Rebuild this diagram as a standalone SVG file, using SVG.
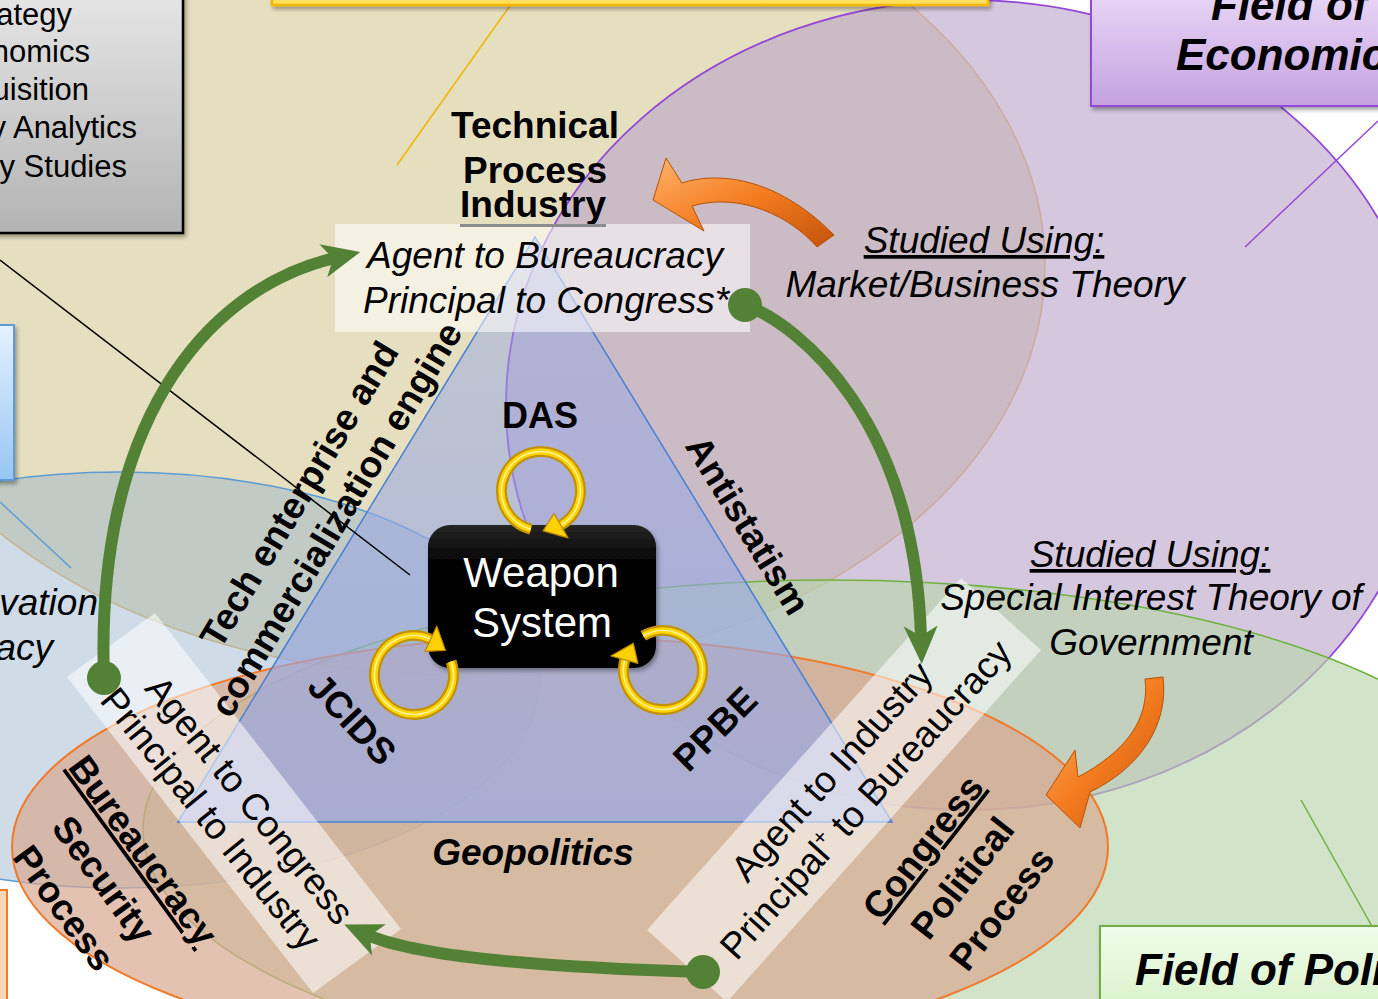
<svg xmlns="http://www.w3.org/2000/svg" width="1378" height="999" viewBox="0 0 1378 999">
<defs>
<style>
text{font-family:"Liberation Sans",Arial,Helvetica,sans-serif;fill:#000}
.bold{font-weight:bold;font-size:37px}
.it{font-style:italic;font-size:37px}
.reg{font-size:37px}
.gray{font-size:31px}
.mid{text-anchor:middle}
.end{text-anchor:end}
.ul{text-decoration:underline}
.field{font-weight:bold;font-style:italic;font-size:44px}
.band{fill:#ffffff;fill-opacity:0.55}
.garrow{fill:none;stroke:#538135;stroke-width:12}
.gdot{fill:#538135}
.ring-o{fill:none;stroke:#c29200;stroke-width:11}
.ring-i{fill:none;stroke:#ffd400;stroke-width:6.5}
.ring-h{fill:none;stroke:#fff4a0;stroke-width:1.6}
.ahead{fill:#ffd000;stroke:#b88600;stroke-width:1.2;stroke-linejoin:round}
.oarrow{fill:url(#orangeG);stroke:#b65208;stroke-width:1}
</style>
<linearGradient id="grayG" x1="0" y1="0" x2="0" y2="1"><stop offset="0" stop-color="#e6e6e6"/><stop offset="1" stop-color="#b3b3b3"/></linearGradient>
<linearGradient id="purpG" x1="0" y1="0" x2="0" y2="1"><stop offset="0" stop-color="#ecdcf8"/><stop offset="1" stop-color="#c4a2e0"/></linearGradient>
<linearGradient id="greenG" x1="0" y1="0" x2="0" y2="1"><stop offset="0" stop-color="#f0fdea"/><stop offset="1" stop-color="#d4efc4"/></linearGradient>
<linearGradient id="blueG" x1="0" y1="0" x2="0" y2="1"><stop offset="0" stop-color="#e4f1ff"/><stop offset="1" stop-color="#98c6f2"/></linearGradient>
<linearGradient id="yelG" x1="0" y1="0" x2="0" y2="1"><stop offset="0" stop-color="#fff2a8"/><stop offset="1" stop-color="#ffdd55"/></linearGradient>
<linearGradient id="triG" x1="0" y1="0" x2="0" y2="1"><stop offset="0" stop-color="#98a8e4" stop-opacity="0.45"/><stop offset="1" stop-color="#98a8e4" stop-opacity="0.72"/></linearGradient>
<linearGradient id="orangeG" x1="0" y1="0" x2="1" y2="1"><stop offset="0" stop-color="#ffb36a"/><stop offset="0.5" stop-color="#f47c20"/><stop offset="1" stop-color="#c4530a"/></linearGradient>
<linearGradient id="boxG" x1="0" y1="0" x2="0" y2="1"><stop offset="0" stop-color="#262626"/><stop offset="0.25" stop-color="#050505"/><stop offset="1" stop-color="#000"/></linearGradient>
<marker id="gHead" markerUnits="userSpaceOnUse" viewBox="0 -18 40 36" refX="12" refY="0" markerWidth="40" markerHeight="36" orient="auto"><path d="M0,-17 L38,0 L0,17 L10,0 Z" fill="#538135"/></marker>
<filter id="sh" x="-10%" y="-10%" width="130%" height="130%"><feDropShadow dx="2" dy="3" stdDeviation="2" flood-color="#000" flood-opacity="0.35"/></filter>
</defs>
<rect width="1378" height="999" fill="#ffffff"/>

<g id="fields">
<ellipse id="field-industry" cx="450" cy="265" rx="595" ry="410" fill="#e6dfbf" stroke="#e8b660" stroke-width="1.5"/>
<ellipse id="field-economics" cx="968" cy="405" rx="462" ry="405" fill="#b9a3c8" fill-opacity="0.6" stroke="#9448d6" stroke-width="1.8"/>
<ellipse id="field-innovation" cx="120" cy="680" rx="419" ry="208" fill="#94b2cc" fill-opacity="0.45" stroke="#5b9bd5" stroke-width="1.5"/>
<ellipse id="field-politics" cx="830" cy="830" rx="687" ry="250" fill="#b8d4aa" fill-opacity="0.65" stroke="#6fb23f" stroke-width="1.5"/>
<ellipse id="field-process" cx="560" cy="847" rx="548" ry="210" fill="#d8a891" fill-opacity="0.7" stroke="#f07a2a" stroke-width="2"/>
</g>

<g id="triangle">
<polygon points="535,237 178,822 892,822" fill="url(#triG)" stroke="#4a7fd4" stroke-width="1.5"/>
</g>

<g id="callouts">
<line x1="514" y1="0" x2="397" y2="165" stroke="#f0b400" stroke-width="1.5"/>
<line x1="0" y1="260" x2="410" y2="575" stroke="#000" stroke-width="1.5"/>
<line x1="1378" y1="121" x2="1245" y2="247" stroke="#9448d6" stroke-width="1.5"/>
<line x1="0" y1="502" x2="71" y2="568" stroke="#5b9bd5" stroke-width="1.5"/>
<line x1="1301" y1="800" x2="1378" y2="937" stroke="#6fb23f" stroke-width="1.5"/>
</g>

<g id="box-gray">
<rect x="-10" y="-10" width="193" height="243" fill="url(#grayG)" stroke="#000" stroke-width="2.5" filter="url(#sh)"/>
<text class="gray end" x="72" y="25">ategy</text>
<text class="gray end" x="90" y="62">nomics</text>
<text class="gray end" x="89" y="100">uisition</text>
<text class="gray end" x="137" y="138">y Analytics</text>
<text class="gray end" x="127" y="177">y Studies</text>
</g>
<g id="box-yellow"><rect x="272" y="-30" width="716" height="35" fill="url(#yelG)" stroke="#f2b800" stroke-width="2.5" filter="url(#sh)"/></g>
<g id="box-economics">
<rect x="1091" y="-20" width="310" height="126" fill="url(#purpG)" stroke="#9448d6" stroke-width="2" filter="url(#sh)"/>
<text class="field" x="1211" y="20">Field of</text>
<text class="field" x="1176" y="70">Economic</text>
</g>
<g id="box-blue"><rect x="-20" y="325" width="34" height="155" fill="url(#blueG)" stroke="#5b9bd5" stroke-width="2" filter="url(#sh)"/></g>
<g id="box-orange"><rect x="-20" y="890" width="27" height="130" fill="#fcd5b8" stroke="#f07a2a" stroke-width="2"/></g>
<g id="box-politics">
<rect x="1100" y="926" width="300" height="100" fill="url(#greenG)" stroke="#6fad47" stroke-width="2" filter="url(#sh)"/>
<text class="field" x="1135" y="985">Field of Poli</text>
</g>

<g id="industry-label">
<text class="bold mid" x="535" y="138">Technical</text>
<text class="bold mid" x="535" y="183">Process</text>
<text class="bold mid" x="533" y="217">Industry</text>
<line x1="460" y1="225.5" x2="606" y2="225.5" stroke="#000" stroke-width="3"/>
</g>

<g id="bands">
<rect class="band" x="335" y="224" width="415" height="108"/>
<polygon class="band" points="67,677 155,613 401,929 313,993"/>
<polygon class="band" points="647,930 961,578 1041,650 727,1002"/>
</g>

<g id="industry-role">
<text class="it mid" x="545" y="268">Agent to Bureaucracy</text>
<text class="it mid" x="546" y="313">Principal to Congress*</text>
</g>

<g id="studied-market">
<text class="it mid ul" x="984" y="253">Studied Using:</text>
<text class="it mid" x="985" y="297">Market/Business Theory</text>
</g>
<g id="studied-special">
<text class="it mid ul" x="1150" y="567">Studied Using:</text>
<text class="it mid" x="1151" y="610">Special Interest Theory of</text>
<text class="it mid" x="1151" y="655">Government</text>
</g>

<g id="left-partial">
<text class="it end" x="98" y="615">vation</text>
<text class="it end" x="53" y="660">acy</text>
</g>

<g id="triangle-labels">
<text class="bold mid" x="540" y="428" style="font-size:36px">DAS</text>
<text class="bold mid" transform="translate(737,532) rotate(58.5)">Antistatism</text>
<text class="bold mid" transform="translate(310,501) rotate(-59)">Tech enterprise and</text>
<text class="bold mid" transform="translate(347,526) rotate(-59)">commercialization engine</text>
<text class="bold mid" transform="translate(343,728) rotate(47)">JCIDS</text>
<text class="bold mid" transform="translate(724,738) rotate(-45)">PPBE</text>
<text class="mid" style="font-weight:bold;font-style:italic;font-size:37px" x="533" y="865">Geopolitics</text>
</g>

<g id="bureaucracy-role">
<text class="reg mid" transform="translate(240,808) rotate(51)">Agent to Congress</text>
<text class="reg mid" transform="translate(201,827) rotate(51)">Principal to Industry</text>
</g>
<g id="congress-role" transform="translate(841,780) rotate(-48)">
<text class="reg mid" x="0" y="0">Agent to Industry</text>
<text class="reg mid" x="2" y="44">Principal<tspan font-size="22" dy="-14">+</tspan><tspan dy="14"> to Bureaucracy</tspan></text>
</g>

<g id="bureaucracy-label" transform="translate(133,858) rotate(54)">
<text class="bold mid ul" x="0" y="0">Bureaucracy</text>
<text class="bold mid" x="0" y="49">Security</text>
<text class="bold mid" x="0" y="98">Process</text>
</g>
<g id="congress-label" transform="translate(933,855) rotate(-52)">
<text class="bold mid ul" x="0" y="0">Congress</text>
<text class="bold mid" x="0" y="50">Political</text>
<text class="bold mid" x="0" y="100">Process</text>
</g>

<g id="weapon-system">
<rect x="428" y="525" width="228" height="143" rx="22" fill="url(#boxG)" filter="url(#sh)"/>
<text class="mid" x="541" y="587" style="font-size:42px;fill:#fff">Weapon</text>
<text class="mid" x="542" y="637" style="font-size:42px;fill:#fff">System</text>
</g>

<g id="loops">
<path class="ring-o" d="M530.8,529.2 A39.5,39.5 0 1 1 560.75,525.2"/>
<path class="ring-i" d="M530.8,529.2 A39.5,39.5 0 1 1 560.75,525.2"/>
<path class="ring-h" d="M530.8,529.2 A39.5,39.5 0 1 1 560.75,525.2"/>
<polygon class="ahead" points="568,537.8 554,513.5 543.1,530.9"/>
<path class="ring-o" d="M451.1,661.5 A39.5,39.5 0 1 1 430.7,639.2"/>
<path class="ring-i" d="M451.1,661.5 A39.5,39.5 0 1 1 430.7,639.2"/>
<path class="ring-h" d="M451.1,661.5 A39.5,39.5 0 1 1 430.7,639.2"/>
<polygon class="ahead" points="436.8,626.1 425,651.4 445.5,650.4"/>
<path class="ring-o" d="M643.25,635.8 A39.5,39.5 0 1 1 624.8,659.8"/>
<path class="ring-i" d="M643.25,635.8 A39.5,39.5 0 1 1 624.8,659.8"/>
<path class="ring-h" d="M643.25,635.8 A39.5,39.5 0 1 1 624.8,659.8"/>
<polygon class="ahead" points="610.8,656 637.9,663.3 633.3,643.2"/>
</g>

<g id="connectors">
<path class="garrow" d="M104,678 C95,430 200,290 335,258" marker-end="url(#gHead)"/>
<circle class="gdot" cx="104" cy="678" r="17"/>
<path class="garrow" d="M745,305 C800,325 915,420 921,638" marker-end="url(#gHead)"/>
<circle class="gdot" cx="745" cy="305" r="17"/>
<path class="garrow" d="M703,972 C560,968 420,958 368,935" marker-end="url(#gHead)"/>
<circle class="gdot" cx="703" cy="972" r="17"/>
<path class="oarrow" d="M653,200 L666,158 L682,183 C715,172 775,175 834,235 L817,247 C790,216 740,192 692,206 L704,231 Z"/>
<path class="oarrow" d="M1046,795 L1075,750 L1078,777 C1125,752 1150,720 1145,679 L1163,677 C1169,725 1140,768 1090,792 L1080,828 Z"/>
</g>
</svg>
